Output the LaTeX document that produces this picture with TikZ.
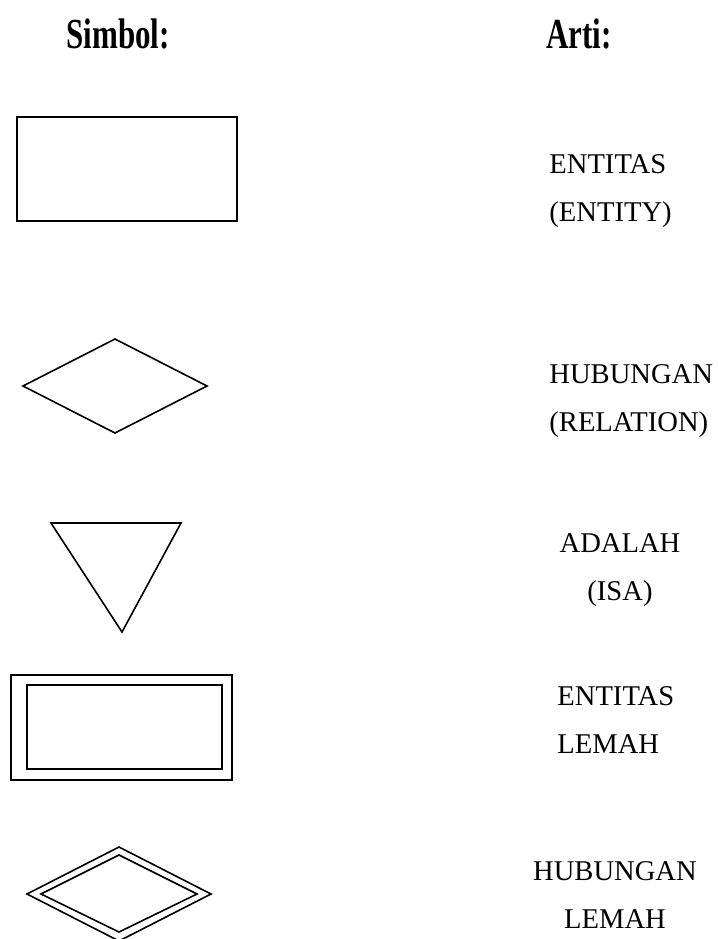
\documentclass[tikz,border=0pt]{standalone}
\usepackage{fontspec}
\setmainfont{Liberation Serif}
\usetikzlibrary{positioning}

\begin{document}
\begin{tikzpicture}[
      x=0.5pt, y=-0.5pt,
      head/.style={inner sep=0pt, font=\fontsize{15.5}{18}\selectfont\bfseries},
      lbl/.style={inner sep=0pt, font=\fontsize{14.3}{24}\selectfont},
      shp/.style={draw, line width=0.8pt, line join=miter}
    ]
    \useasboundingbox (0,0) rectangle (718,939);

    % Judul kolom
    \node (simbol) [head, anchor=base west] at (66,48) {\scalebox{1}[1.38]{Simbol:}};
    \node (arti) [head, anchor=base west] at (546,48) {\scalebox{1}[1.38]{Arti:}};

    % Simbol
    \draw [shp] (17,117) rectangle (237,221);
    \draw [shp] (115,339) -- (207,386) -- (115,433) -- (23,386) -- cycle;
    \draw [shp] (51,523) -- (181,523) -- (122,632) -- cycle;
    \draw [shp] (11,675) rectangle (232,780);
    \draw [shp] (27,685) rectangle (222,769);
    \draw [shp] (119,847) -- (211,894) -- (119,941) -- (27,894) -- cycle;
    \draw [shp] (119,855) -- (197,894) -- (119,932) -- (41,894) -- cycle;

    % Arti (base = baris terakhir)
    \node (entitas) [lbl, align=left, anchor=base west] at (549,221) {ENTITAS\\(ENTITY)};
    \node (hubungan) [lbl, align=left, anchor=base west] at (549,431) {HUBUNGAN\\(RELATION)};
    \node (adalah) [lbl, align=center, anchor=base] at (620,600) {ADALAH\\(ISA)};
    \node (lemah) [lbl, align=left, anchor=base west] at (557,753) {ENTITAS\\LEMAH};
    \node (hublemah) [lbl, align=center, anchor=base] at (615,928) {HUBUNGAN\\LEMAH};
\end{tikzpicture}
\end{document}
